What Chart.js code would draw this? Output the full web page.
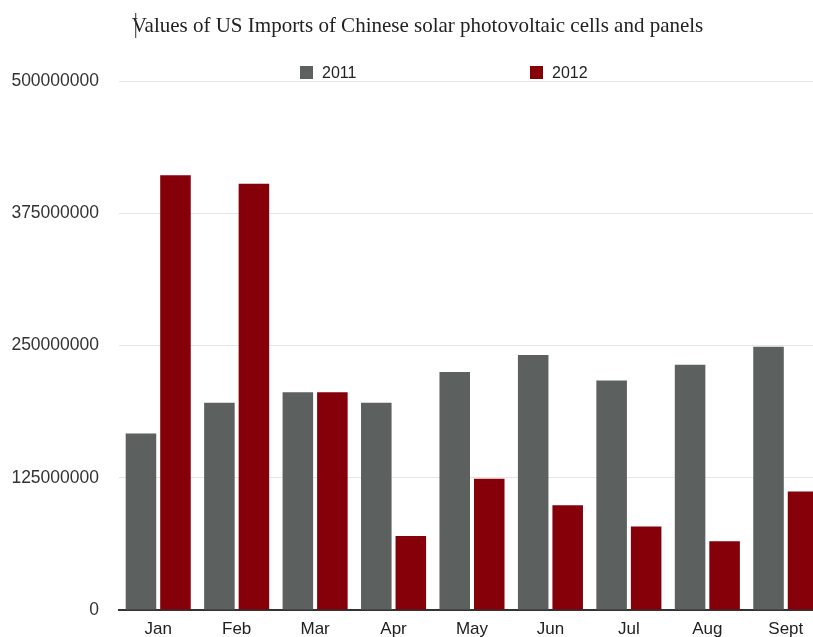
<!DOCTYPE html>
<html>
<head>
<meta charset="utf-8">
<script src="https://cdn.jsdelivr.net/npm/chart.js@4/dist/chart.umd.min.js"></script>
<style>
  body { margin: 0; background: #fff; overflow: hidden; }
  #wrap { position: relative; width: 848px; height: 637px; }
  #chart { display: block; }
  .key { position: absolute; top: 64px; font: 16px "Liberation Sans", Arial, sans-serif; color: #222; line-height: 18px; }
  .key span { display: inline-block; width: 13px; height: 13px; vertical-align: -1px; margin-right: 9px; }
</style>
</head>
<body>
<div id="wrap">
  <canvas id="chart" width="848" height="637"></canvas>
  <div class="key" style="left:300px"><span style="background:#5c605e"></span>2011</div>
  <div class="key" style="left:530px"><span style="background:#86000a"></span>2012</div>
</div>
<script>
const months = ["Jan", "Feb", "Mar", "Apr", "May", "Jun", "Jul", "Aug", "Sept"];
const values2011 = [167000000, 196000000, 206000000, 196000000, 225000000, 241000000, 217000000, 232000000, 249000000];
const values2012 = [411000000, 403000000, 206000000, 70000000, 124000000, 99000000, 79000000, 65000000, 112000000];
const yTicks = [0, 125000000, 250000000, 375000000, 500000000];

const titleText = "Values of US Imports of Chinese solar photovoltaic cells and panels";

// the little text cursor in front of the title
const cursorMark = {
  id: "cursorMark",
  afterDraw(chart) {
    const ctx = chart.ctx;
    ctx.save();
    ctx.font = "21px 'Liberation Serif', 'Times New Roman', serif";
    const w = ctx.measureText(titleText).width;
    const x = chart.width / 2 - w / 2 - 3;
    ctx.strokeStyle = "#333";
    ctx.lineWidth = 1;
    ctx.beginPath();
    ctx.moveTo(x + 0.5, 13);
    ctx.lineTo(x + 0.5, 38);
    ctx.stroke();
    ctx.restore();
  }
};

new Chart(document.getElementById("chart"), {
  type: "bar",
  data: {
    labels: months,
    datasets: [
      { label: "2011", data: values2011, backgroundColor: "#5c605e" },
      { label: "2012", data: values2012, backgroundColor: "#86000a" }
    ]
  },
  options: {
    responsive: false,
    animation: false,
    layout: { padding: { left: 10, right: 23, top: 0, bottom: 0 } },
    datasets: { bar: { categoryPercentage: 0.88, barPercentage: 0.885 } },
    plugins: {
      legend: { display: false },
      tooltip: { enabled: false },
      title: {
        display: true,
        text: titleText,
        color: "#222",
        font: { family: "'Liberation Serif', 'Times New Roman', serif", size: 21, weight: "normal" },
        padding: { top: 14, bottom: 42 }
      }
    },
    scales: {
      x: {
        afterFit(axis) { axis.height = 27; },
        grid: { display: false, drawTicks: false },
        border: { display: true, color: "#333", width: 2 },
        ticks: { color: "#222", padding: 9, font: { family: "'Liberation Sans', Arial, sans-serif", size: 17 } }
      },
      y: {
        min: 0,
        max: 500000000,
        afterBuildTicks(axis) { axis.ticks = yTicks.map(v => ({ value: v })); },
        afterFit(axis) { axis.width = 109; },
        grid: { color: "#e6e6e6", drawTicks: true, tickLength: 20, tickColor: "rgba(0,0,0,0)" },
        border: { display: false },
        ticks: {
          color: "#333",
          padding: 0,
          font: { family: "'Liberation Sans', Arial, sans-serif", size: 17.5 },
          callback: v => String(v)
        }
      }
    }
  },
  plugins: [cursorMark]
});
</script>
</body>
</html>
